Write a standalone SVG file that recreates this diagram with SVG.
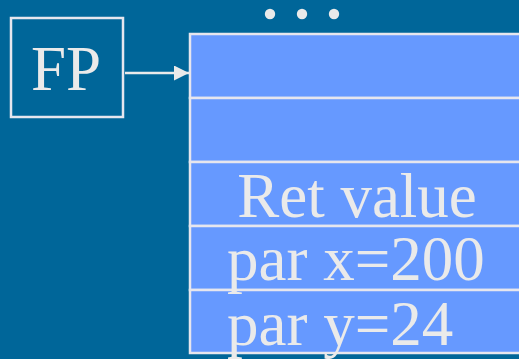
<svg xmlns="http://www.w3.org/2000/svg" width="519" height="359" viewBox="0 0 519 359">
  <defs>
    <marker id="arrow" viewBox="0 0 10 10" refX="10" refY="5" markerWidth="6.4" markerHeight="6" markerUnits="strokeWidth" orient="auto">
      <path d="M0,0 L10,5 L0,10 z" fill="#eaeaea"/>
    </marker>
    <style>
      .lbl { font-family: "Liberation Serif", "Times New Roman", serif; fill: #eaeaea; font-size: 63px; }
      .cell { fill: #6699ff; stroke: #e6e6ee; stroke-width: 2.5; }
      .box { fill: none; stroke: #e6e6ee; stroke-width: 2.5; }
      .dot { fill: #eaeaea; }
    </style>
  </defs>
  <rect width="519" height="359" fill="#006699"/>

  <!-- ellipsis above the stack -->
  <g id="ellipsis">
    <circle class="dot" cx="270" cy="14" r="5.2"/>
    <circle class="dot" cx="302" cy="14" r="5.2"/>
    <circle class="dot" cx="334" cy="14" r="5.2"/>
  </g>

  <!-- frame pointer -->
  <g id="fp">
    <rect class="box" x="11" y="18" width="112" height="99"/>
    <text class="lbl" x="66" y="90" text-anchor="middle">FP</text>
  </g>

  <!-- stack cells -->
  <g id="stack">
    <rect class="cell" x="190" y="34" width="340" height="64"/>
    <rect class="cell" x="190" y="98" width="340" height="64"/>
    <rect class="cell" x="190" y="162" width="340" height="64"/>
    <rect class="cell" x="190" y="226" width="340" height="64"/>
    <rect class="cell" x="190" y="290" width="340" height="63"/>
    <text class="lbl" x="357" y="217" text-anchor="middle">Ret value</text>
    <text class="lbl" x="227" y="280">par x=200</text>
    <text class="lbl" x="227" y="345">par y=24</text>
  </g>

  <g id="connectors">
    <line x1="125" y1="73" x2="189" y2="73" stroke="#eaeaea" stroke-width="2.5" marker-end="url(#arrow)"/>
  </g>
</svg>
